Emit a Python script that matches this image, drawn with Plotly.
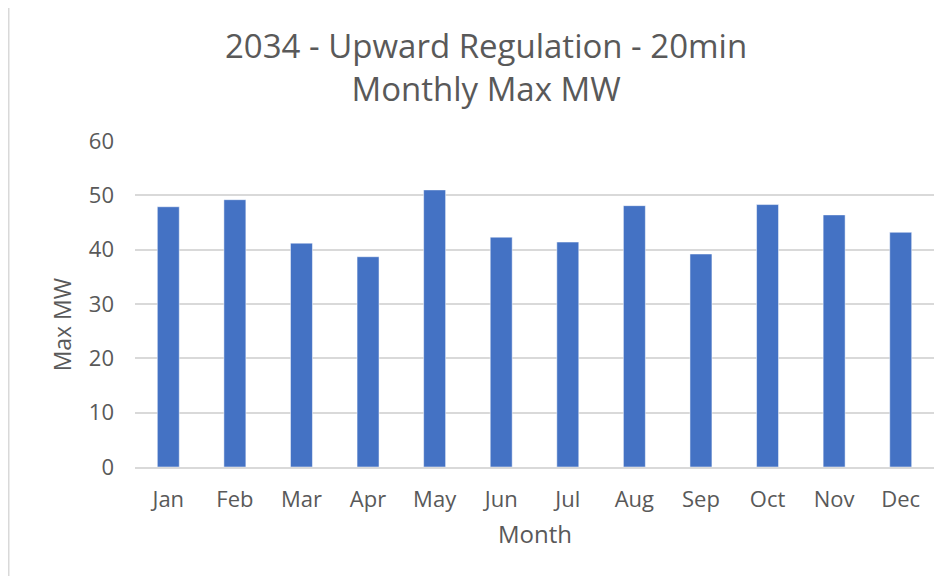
import plotly.graph_objects as go

months = ['Jan', 'Feb', 'Mar', 'Apr', 'May', 'Jun', 'Jul', 'Aug', 'Sep', 'Oct', 'Nov', 'Dec']
max_mw = [47.9, 49.2, 41.2, 38.7, 51.0, 42.3, 41.4, 48.1, 39.2, 48.3, 46.4, 43.2]
y_ticks = [0, 10, 20, 30, 40, 50, 60]
title_lines = ['2034 - Upward Regulation - 20min', 'Monthly Max MW']

font_family = 'Open Sans, Segoe UI, sans-serif'
text_color = '#595959'

fig = go.Figure(go.Bar(x=months,
                       y=max_mw,
                       marker=dict(color='#4472C4', line=dict(color='#FFFFFF', width=0.5))))

# page has an 8px body margin, so the figure is sized to fill the rest of the window
fig.update_layout(width=944,
                  height=568,
                  bargap=0.67,
                  margin=dict(l=127, r=18, t=133, b=109),
                  paper_bgcolor='#FFFFFF',
                  plot_bgcolor='#FFFFFF',
                  showlegend=False,
                  font=dict(family=font_family, color=text_color),
                  shapes=[dict(type='line', xref='paper', yref='paper',
                               x0=-0.158, x1=-0.158, y0=-0.35, y1=1.5,
                               line=dict(color='#D9D9D9', width=1.5))])

# two-line title as one text block
fig.add_annotation(text='<br>'.join(title_lines), xref='paper', yref='paper', x=0.439, y=1.2285,
                   xanchor='center', yanchor='middle', showarrow=False,
                   font=dict(family=font_family, size=33, color=text_color))

# axis titles
fig.add_annotation(text='Max MW', xref='paper', yref='paper', x=-0.092, y=0.436,
                   xanchor='center', yanchor='middle', textangle=-90, showarrow=False,
                   font=dict(family=font_family, size=23, color=text_color))
fig.add_annotation(text='Month', xref='paper', yref='paper', x=0.5, y=-0.204,
                   xanchor='center', yanchor='middle', showarrow=False,
                   font=dict(family=font_family, size=24, color=text_color))

fig.update_yaxes(range=[0, 60],
                 tickvals=y_ticks,
                 showgrid=True,
                 gridcolor='#D9D9D9',
                 gridwidth=1.5,
                 zeroline=False,
                 showline=False,
                 ticks='',
                 ticklabelstandoff=20,
                 tickfont=dict(size=22, color=text_color))

fig.update_xaxes(showline=True,
                 linecolor='#D9D9D9',
                 linewidth=1.5,
                 showgrid=False,
                 ticks='',
                 ticklabelstandoff=12,
                 tickfont=dict(size=22, color=text_color))

fig.write_html("out.html")
